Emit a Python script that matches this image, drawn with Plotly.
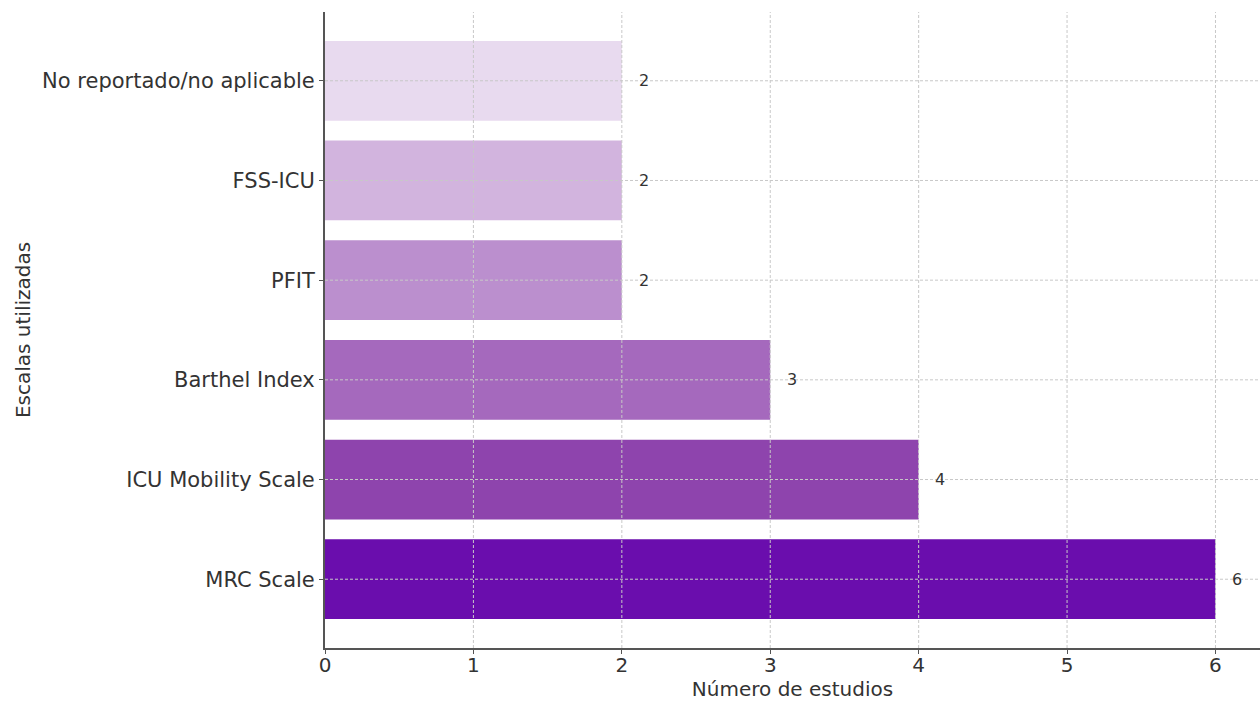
import plotly.graph_objects as go

# Scales reported across the included studies (bottom to top)
scales = ["MRC Scale", "ICU Mobility Scale", "Barthel Index", "PFIT", "FSS-ICU",
          "No reportado/no aplicable"]
counts = [6, 4, 3, 2, 2, 2]
colors = ["#6A0DAD", "#8E44AD", "#A569BD", "#BB8FCE", "#D2B4DE", "#E8DAEF"]
x_ticks = [0, 1, 2, 3, 4, 5, 6]

font_family = "DejaVu Sans"
text_color = "#333333"
grid_color = "#C8C8C8"

fig = go.Figure(
    go.Bar(
        x=counts,
        y=scales,
        orientation="h",
        marker=dict(color=colors, line=dict(width=0)),
        width=0.8,
        hoverinfo="x+y",
    )
)

# Dashed grid drawn on top of the bars
for t in x_ticks[1:]:
    fig.add_shape(
        type="line", xref="x", yref="paper", x0=t, x1=t, y0=0, y1=1,
        line=dict(color=grid_color, width=1, dash="3px,2px"), layer="above",
    )
for s in scales:
    fig.add_shape(
        type="line", xref="paper", yref="y", x0=0, x1=1, y0=s, y1=s,
        line=dict(color=grid_color, width=1, dash="3px,2px"), layer="above",
    )

# Value labels just to the right of each bar
for s, c in zip(scales, counts):
    fig.add_annotation(
        x=c + 0.1, y=s, text=str(c), showarrow=False,
        xanchor="left", yanchor="middle",
        font=dict(family=font_family, size=16, color=text_color),
    )

fig.update_layout(
    width=1260,
    height=704,
    margin=dict(l=325, r=0, t=12, b=56),
    paper_bgcolor="white",
    plot_bgcolor="white",
    showlegend=False,
    font=dict(family=font_family, size=21, color=text_color),
    xaxis=dict(
        range=[0, 6.3],
        tickvals=x_ticks,
        showgrid=False,
        zeroline=False,
        showline=True, linecolor="#555555", linewidth=2,
        ticks="outside", ticklen=4, tickcolor="#555555",
        ticklabelstandoff=-6,
        tickfont=dict(size=20),
        title=dict(text="Número de estudios", font=dict(size=20), standoff=0),
        automargin=False,
    ),
    yaxis=dict(
        range=[-0.69, 5.69],
        showgrid=False,
        zeroline=False,
        showline=True, linecolor="#555555", linewidth=2,
        ticks="outside", ticklen=4, tickcolor="#555555",
        tickfont=dict(size=21),
        title=dict(text="Escalas utilizadas", font=dict(size=20), standoff=6),
        automargin=False,
    ),
)

fig.write_html("out.html")
